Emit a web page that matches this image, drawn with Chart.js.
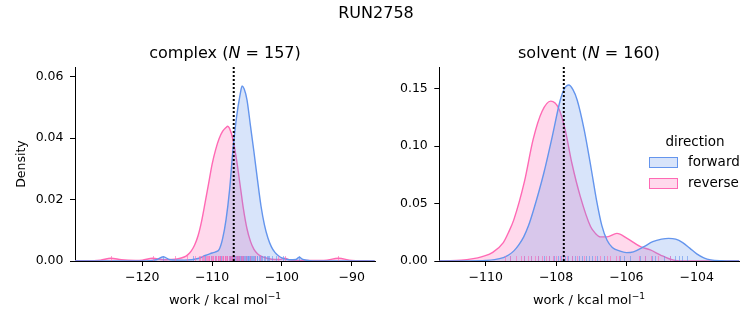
<!DOCTYPE html>
<html lang="en">
<head>
  <meta charset="UTF-8">
  <title>RUN2758</title>
  <script src="https://cdn.jsdelivr.net/npm/chart.js"></script>
  <style>
    body { margin: 0; background: #fff; font-family: 'DejaVu Sans', sans-serif; }
    #fig { position: relative; width: 753px; height: 325px; overflow: hidden; }
    canvas { position: absolute; top: 0; }
    .txt { position: absolute; color: #000; white-space: nowrap; transform: translate(-50%, -50%); line-height: 1; }
    .big { font-size: 16px; }
    .lbl { font-size: 13px; }
    .lbl sup { font-size: 9.1px; vertical-align: 5px; line-height: 0; }
    .leg { position: absolute; font-size: 13.5px; line-height: 1; white-space: nowrap; }
    .box { position: absolute; width: 27px; height: 9px; }
  </style>
</head>
<body>
  <div id="fig">
    <canvas id="cComplex" width="385" height="325" style="left:0"></canvas>
    <canvas id="cSolvent" width="368" height="325" style="left:385px"></canvas>
    <div class="txt big" style="left:376px; top:13px">RUN2758</div>
    <div class="txt big" style="left:225px; top:53px">complex (<i>N</i> = 157)</div>
    <div class="txt big" style="left:589px; top:53px">solvent (<i>N</i> = 160)</div>
    <div class="txt lbl" style="left:225px; top:299px">work / kcal mol<sup>&minus;1</sup></div>
    <div class="txt lbl" style="left:589px; top:299px">work / kcal mol<sup>&minus;1</sup></div>
    <div class="txt leg" style="left:695px; top:142px; transform:translate(-50%,-50%)">direction</div>
    <div class="box" style="left:649px; top:157px; background:rgba(100,149,237,0.25); border:1px solid #6495ED"></div>
    <div class="leg" style="left:688px; top:155px">forward</div>
    <div class="box" style="left:649px; top:178px; background:rgba(255,105,180,0.25); border:1px solid #FF69B4"></div>
    <div class="leg" style="left:688px; top:176px">reverse</div>
  </div>
  <script>
    // kde curves (work in kcal/mol, density)
    const complexFwdX = [-130, -120, -118, -117, -116, -114, -112, -111, -110, -109.5, -109, -108.5, -108, -107.5, -107, -106.5, -106, -105.7, -105.4, -105, -104.5, -104, -103.5, -103, -102.5, -102, -101.5, -101, -100.5, -100, -99, -98, -97.5, -97, -96, -95, -86.7];
    const complexFwdY = [0, 0, 0.0004, 0.0014, 0.0004, 0.0003, 0.0008, 0.0018, 0.0026, 0.0030, 0.0037, 0.0072, 0.0135, 0.0230, 0.0365, 0.0468, 0.0540, 0.0570, 0.0560, 0.0525, 0.0440, 0.0355, 0.0265, 0.0180, 0.0118, 0.0075, 0.0046, 0.0028, 0.0017, 0.0010, 0.0004, 0.0005, 0.0012, 0.0005, 0.0001, 0, 0];
    const complexRevX = [-130, -128, -126, -124.5, -123, -121, -120, -118.5, -117, -116, -115, -114, -113.5, -113, -112.5, -112, -111.5, -111, -110.5, -110, -109.5, -109, -108.5, -108, -107.76, -107.5, -107, -106.5, -106, -105.5, -105, -104.5, -104, -103.5, -103, -102, -101, -100.3, -99.6, -98.8, -97, -94, -91.9, -90, -88, -86.7];
    const complexRevY = [0.0001, 0.0001, 0.0003, 0.0009, 0.0004, 0.0002, 0.0003, 0.0009, 0.0004, 0.0005, 0.0007, 0.0013, 0.0020, 0.0032, 0.0052, 0.0083, 0.0130, 0.0190, 0.0252, 0.0315, 0.0362, 0.0398, 0.0422, 0.0435, 0.0439, 0.0432, 0.0395, 0.0330, 0.0250, 0.0168, 0.0105, 0.0064, 0.0038, 0.0024, 0.0016, 0.0008, 0.0005, 0.0005, 0.0009, 0.0003, 0.0002, 0.0002, 0.0009, 0.0002, 0.0001, 0];

    const solventFwdX = [-111.32, -110.5, -110, -109.75, -109.5, -109.35, -109.2, -109.05, -108.92, -108.78, -108.64, -108.35, -108.11, -107.88, -107.76, -107.64, -107.52, -107.4, -107.2, -107.0, -106.85, -106.7, -106.55, -106.4, -106.2, -106.0, -105.8, -105.5, -105.25, -105.0, -104.8, -104.6, -104.4, -104.2, -104.0, -103.8, -103.6, -103.3, -103, -102.79];
    const solventFwdY = [0, 0.0001, 0.0005, 0.0012, 0.0030, 0.0052, 0.0088, 0.0145, 0.021, 0.031, 0.0443, 0.0763, 0.108, 0.140, 0.150, 0.153, 0.149, 0.140, 0.114, 0.080, 0.053, 0.031, 0.018, 0.0118, 0.0088, 0.0073, 0.0080, 0.0125, 0.0168, 0.0190, 0.0197, 0.0190, 0.0160, 0.0112, 0.0062, 0.0028, 0.0010, 0.0002, 0, 0];
    const solventRevX = [-111.32, -111, -110.7, -110.4, -110.1, -109.8, -109.5, -109.35, -109.2, -108.9, -108.65, -108.4, -108.15, -107.93, -107.74, -107.55, -107.31, -107.02, -106.88, -106.74, -106.55, -106.27, -105.98, -105.6, -105.32, -105.03, -104.75, -104.56, -104.2, -102.79];
    const solventRevY = [0, 0.0002, 0.0007, 0.0018, 0.0038, 0.0075, 0.016, 0.025, 0.036, 0.069, 0.106, 0.130, 0.139, 0.133, 0.114, 0.085, 0.056, 0.030, 0.024, 0.021, 0.021, 0.024, 0.0197, 0.0125, 0.0096, 0.0052, 0.0015, 0.0003, 0, 0];

    // individual work values (rug)
    const complexFwdRug = [-117.0, -112.8, -111.0, -110.2, -109.6, -109.1, -108.9, -108.7, -108.4, -108.2, -108.1, -107.9, -107.8, -107.6, -107.5, -107.4, -107.3, -107.2, -107.0, -106.9, -106.8, -106.7, -106.6, -106.5, -106.4, -106.3, -106.2, -106.1, -106.0, -105.9, -105.8, -105.7, -105.6, -105.5, -105.4, -105.3, -105.2, -105.1, -105.0, -104.9, -104.8, -104.7, -104.6, -104.5, -104.4, -104.3, -104.2, -104.0, -103.9, -103.8, -103.6, -103.5, -103.3, -103.2, -103.0, -102.9, -102.6, -102.4, -102.2, -102.0, -101.8, -101.4, -100.8, -99.9, -97.5];
    const complexRevRug = [-124.5, -118.5, -115.3, -113.6, -112.5, -111.9, -111.7, -111.5, -111.3, -111.1, -110.9, -110.8, -110.6, -110.5, -110.4, -110.2, -110.0, -109.9, -109.8, -109.6, -109.5, -109.4, -109.2, -109.1, -109.0, -108.9, -108.8, -108.6, -108.5, -108.4, -108.2, -108.1, -108.0, -107.9, -107.8, -107.6, -107.5, -107.3, -107.2, -107.1, -106.9, -106.8, -106.6, -106.5, -106.3, -106.1, -105.9, -105.7, -105.5, -105.2, -104.6, -103.9, -103.1, -100.6, -99.6, -91.9];
    const solventFwdRug = [-109.3, -108.9, -108.7, -108.5, -108.35, -108.2, -108.05, -107.95, -107.85, -107.75, -107.65, -107.55, -107.45, -107.35, -107.25, -107.15, -107.05, -106.98, -106.83, -106.65, -106.17, -106.08, -105.89, -105.6, -105.46, -105.27, -105.18, -104.94, -104.75, -104.61, -104.51, -104.42, -104.28];
    const solventRevRug = [-109.45, -109.3, -109.15, -109.0, -108.9, -108.8, -108.7, -108.6, -108.5, -108.4, -108.3, -108.2, -108.1, -108.0, -107.9, -107.8, -107.7, -107.55, -107.4, -107.2, -106.9, -106.74, -106.55, -106.46, -106.31, -106.2, -105.65, -105.46, -105.3, -105.1, -104.75];

    // dotted vertical marker
    const complexMark = -106.9;
    const solventMark = -107.78;

    // axis ranges and ticks
    const complexXRange = [-129.64, -86.66];
    const complexYRange = [0, 0.0632];
    const solventXRange = [-111.32, -102.79];
    const solventYRange = [0, 0.1687];
    const complexXStep = 10, complexYStep = 0.02;
    const solventXStep = 2, solventYStep = 0.05;

    const blue = '#6495ED';
    const pink = '#FF69B4';

    Chart.defaults.font.family = "'DejaVu Sans', sans-serif";
    Chart.defaults.font.size = 12.5;
    Chart.defaults.color = '#000';

    const pts = (xs, ys) => xs.map((x, i) => ({ x: x, y: ys[i] }));
    const minus = v => String(v).replace('-', '\u2212');

    const rugPlugin = {
      id: 'rug',
      afterDatasetsDraw(chart) {
        const ctx = chart.ctx;
        const xs = chart.scales.x;
        const bottom = chart.chartArea.bottom;
        ctx.save();
        ctx.lineWidth = 1;
        chart.data.datasets.forEach(ds => {
          ctx.strokeStyle = ds.rugColor;
          ds.rug.forEach(v => {
            const px = Math.round(xs.getPixelForValue(v)) + 0.5;
            ctx.beginPath();
            ctx.moveTo(px, bottom);
            ctx.lineTo(px, bottom - 5);
            ctx.stroke();
          });
        });
        ctx.restore();
      }
    };

    const markPlugin = {
      id: 'mark',
      afterDraw(chart, args, opts) {
        const ctx = chart.ctx;
        const px = chart.scales.x.getPixelForValue(opts.value);
        ctx.save();
        ctx.strokeStyle = '#000';
        ctx.lineWidth = 2;
        ctx.setLineDash([2, 2]);
        ctx.beginPath();
        ctx.moveTo(px, chart.chartArea.bottom);
        ctx.lineTo(px, chart.chartArea.top);
        ctx.stroke();
        ctx.restore();
      }
    };

    function makeChart(id, fwd, rev, fwdRug, revRug, mark, xr, yr, xstep, ystep, yWidth, padL, padR, yTitle) {
      return new Chart(document.getElementById(id), {
        type: 'line',
        data: {
          datasets: [
            {
              label: 'forward', data: fwd, rug: fwdRug,
              borderColor: blue, backgroundColor: 'rgba(100,149,237,0.25)',
              rugColor: 'rgba(100,149,237,0.6)',
              fill: 'origin', borderWidth: 1.4, pointRadius: 0, cubicInterpolationMode: 'monotone'
            },
            {
              label: 'reverse', data: rev, rug: revRug,
              borderColor: pink, backgroundColor: 'rgba(255,105,180,0.25)',
              rugColor: 'rgba(255,105,180,0.6)',
              fill: 'origin', borderWidth: 1.4, pointRadius: 0, cubicInterpolationMode: 'monotone'
            }
          ]
        },
        options: {
          responsive: false,
          animation: false,
          devicePixelRatio: 1,
          layout: { padding: { top: 67, bottom: 13.5, left: padL, right: padR } },
          plugins: {
            legend: { display: false },
            tooltip: { enabled: false },
            mark: { value: mark }
          },
          scales: {
            x: {
              type: 'linear', min: xr[0], max: xr[1],
              border: { display: true, color: '#000', width: 1 },
              grid: { drawOnChartArea: false, drawTicks: true, tickLength: 5, color: '#000' },
              ticks: { stepSize: xstep, includeBounds: false, padding: 4, maxRotation: 0, callback: v => minus(v) },
              afterFit: s => { s.height = 50.5; }
            },
            y: {
              min: yr[0], max: yr[1],
              border: { display: true, color: '#000', width: 1 },
              grid: { drawOnChartArea: false, drawTicks: true, tickLength: 5, color: '#000' },
              ticks: { stepSize: ystep, includeBounds: false, padding: 6.5, callback: v => v.toFixed(2) },
              title: { display: yTitle, text: 'Density', padding: { top: 4, bottom: 4 } },
              afterFit: s => { s.width = yWidth; }
            }
          }
        },
        plugins: [rugPlugin, markPlugin]
      });
    }

    makeChart('cComplex', pts(complexFwdX, complexFwdY), pts(complexRevX, complexRevY),
      complexFwdRug, complexRevRug, complexMark, complexXRange, complexYRange,
      complexXStep, complexYStep, 65, 10, 10, true);
    makeChart('cSolvent', pts(solventFwdX, solventFwdY), pts(solventRevX, solventRevY),
      solventFwdRug, solventRevRug, solventMark, solventXRange, solventYRange,
      solventXStep, solventYStep, 54.3, 0, 13.7, false);
  </script>
</body>
</html>
